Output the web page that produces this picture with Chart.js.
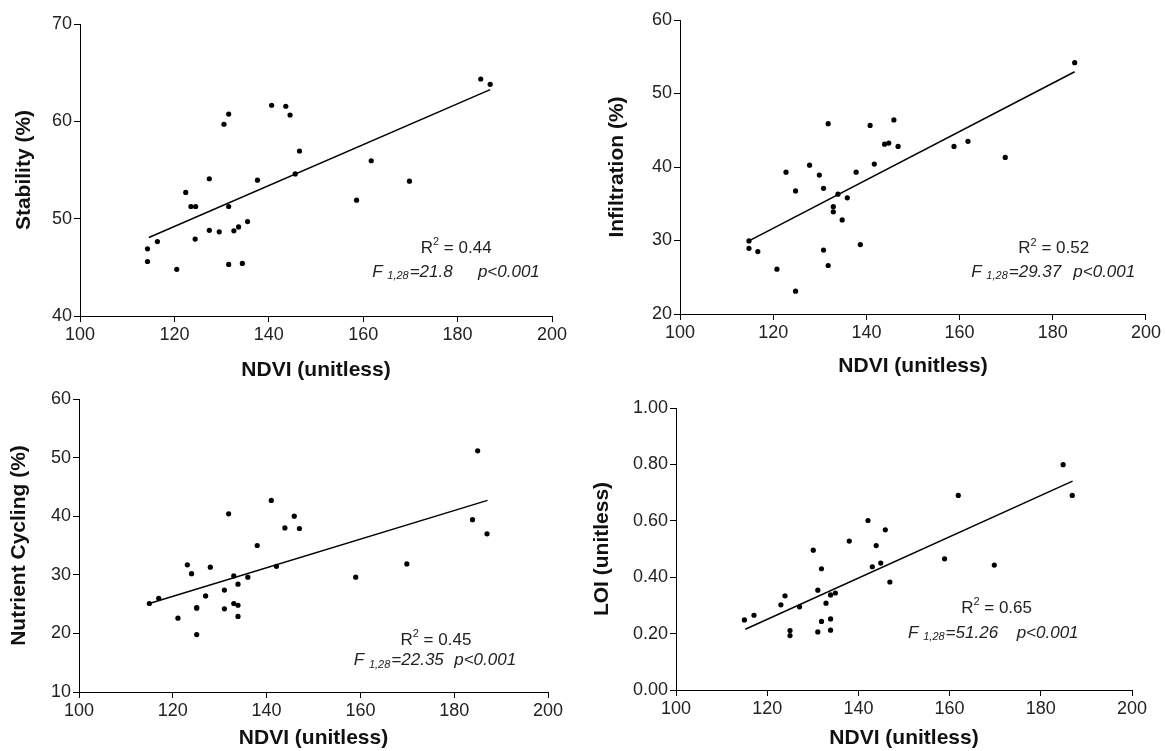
<!DOCTYPE html>
<html><head><meta charset="utf-8">
<script src="https://cdn.jsdelivr.net/npm/chart.js@4.4.0/dist/chart.umd.min.js"></script>
<style>
html,body{margin:0;padding:0;background:#fff;width:1165px;height:751px;overflow:hidden;}
.p{position:absolute;}
</style></head><body>
<div class="p" style="left:12px;top:0px;width:568px;height:383px"><canvas id="c1"></canvas></div>
<div class="p" style="left:605px;top:0px;width:558px;height:379px"><canvas id="c2"></canvas></div>
<div class="p" style="left:7px;top:370px;width:566px;height:381px"><canvas id="c3"></canvas></div>
<div class="p" style="left:590px;top:370px;width:562px;height:381px"><canvas id="c4"></canvas></div>
<script>
// ---- Data ----
const xTicks = [100, 120, 140, 160, 180, 200];

const ndviStab = [114.3,114.3,116.4,120.5,122.4,123.5,124.5,124.4,127.4,127.4,129.5,130.5,131.5,131.5,131.5,132.6,133.6,134.4,135.5,137.6,140.6,143.6,144.5,145.6,146.5,158.6,161.7,169.8,184.9,186.9];
const stability = [46.9,45.6,47.65,44.8,52.7,51.25,51.25,47.9,54.1,48.8,48.65,59.7,60.75,51.25,45.3,48.75,49.15,45.4,49.7,53.95,61.65,61.55,60.65,54.6,56.95,51.9,55.95,53.85,64.35,63.8];
const stabFitX = [114.6, 186.9];
const stabFitY = [48.06, 63.26];

const ndviInf = [114.8,114.8,116.7,120.8,122.75,124.8,124.8,127.8,129.9,130.8,130.8,131.8,131.8,132.9,132.9,133.9,134.8,135.9,137.8,138.7,140.8,141.7,143.9,144.8,145.9,146.8,158.8,161.8,169.8,184.7];
const infiltration = [29.94,28.94,28.5,26.1,39.3,36.75,23.1,40.25,38.9,37.1,28.7,45.9,26.6,34.6,33.9,36.3,32.8,35.8,39.3,29.45,45.65,40.4,43.1,43.25,46.4,42.8,42.8,43.5,41.3,54.2];
const infFitX = [114.8, 184.7];
const infFitY = [29.94, 52.96];

const ndviNut = [115.0,117.0,121.1,123.1,124.0,125.1,125.1,125.1,127.0,128.0,131.0,131.0,131.9,133.0,133.0,133.9,133.9,133.9,136.0,138.0,141.0,142.1,143.9,145.9,147.0,159.0,169.9,183.9,185.0,187.0];
const nutrient = [25.1,26.0,22.6,31.7,30.2,24.3,24.4,19.8,26.4,31.3,27.4,24.2,40.4,29.8,25.1,28.4,24.8,22.9,29.6,35.0,42.7,31.45,38.0,40.0,37.9,29.6,31.85,39.4,51.15,37.0];
const nutFitX = [115.0, 187.1];
const nutFitY = [25.1, 42.7];

const ndviLoi = [115.0,117.1,123.0,123.9,125.0,125.0,127.1,130.1,131.1,131.1,131.9,131.9,132.9,133.9,133.9,133.9,134.95,138.0,142.1,143.05,143.9,144.9,145.9,146.9,158.9,161.9,169.8,184.9,186.9];
const loi = [0.2485,0.265,0.302,0.334,0.211,0.193,0.295,0.496,0.354,0.206,0.430,0.243,0.308,0.337,0.252,0.212,0.344,0.528,0.601,0.437,0.512,0.450,0.568,0.383,0.465,0.690,0.443,0.799,0.690];
const loiFitX = [115.2, 186.96];
const loiFitY = [0.2154, 0.7408];

const stats = [
  {r2: '0.44', f: '21.8'},
  {r2: '0.52', f: '29.37'},
  {r2: '0.45', f: '22.35'},
  {r2: '0.65', f: '51.26'}
];

// ---- Drawing ----
const FAM = '"Liberation Sans", Arial, Helvetica, sans-serif';
const TXT = '#222';

function annPlugin(st, pos) {
  return {
    id: 'ann',
    afterDraw(chart) {
      const {ctx, scales: {x, y}} = chart;
      ctx.save();
      ctx.fillStyle = TXT;
      ctx.textBaseline = 'middle';
      ctx.textAlign = 'left';
      const big = '17px ' + FAM, sm = '11px ' + FAM;
      ctx.font = big; const wR = ctx.measureText('R').width;
      const rest = ' = ' + st.r2; const wRest = ctx.measureText(rest).width;
      ctx.font = sm; const w2 = ctx.measureText('2').width;
      const cx = x.getPixelForValue(pos.rx), cy = y.getPixelForValue(pos.ry);
      let sx = cx - (wR + w2 + wRest) / 2;
      ctx.font = big; ctx.fillText('R', sx, cy);
      ctx.font = sm; ctx.fillText('2', sx + wR, cy - 6);
      ctx.font = big; ctx.fillText(rest, sx + wR + w2, cy);
      const ibig = 'italic 17px ' + FAM, ism = 'italic 11px ' + FAM;
      let fx = x.getPixelForValue(pos.fx); const fy = y.getPixelForValue(pos.fy);
      ctx.font = ibig; ctx.fillText('F', fx, fy); fx += ctx.measureText('F ').width;
      ctx.font = ism; ctx.fillText('1,28', fx, fy + 4); fx += ctx.measureText('1,28').width + 1;
      ctx.font = ibig; ctx.fillText('=' + st.f, fx, fy);
      ctx.fillText('p<0.001', x.getPixelForValue(pos.px), fy);
      ctx.restore();
    }
  };
}

function makeChart(id, xs, ys, fx, fy, yMin, yMax, yStep, yTitle, yFmt, box, st, pos) {
  const pts = xs.map((v, i) => ({x: v, y: ys[i]}));
  const line = fx.map((v, i) => ({x: v, y: fy[i]}));
  new Chart(document.getElementById(id), {
    type: 'scatter',
    data: {
      datasets: [
        {data: pts, backgroundColor: '#000', borderWidth: 0, pointRadius: 2.6, pointHoverRadius: 2.6},
        {data: line, showLine: true, borderColor: '#000', borderWidth: 1.5, pointRadius: 0, fill: false}
      ]
    },
    options: {
      responsive: true, maintainAspectRatio: false, animation: false,
      events: [],
      layout: {padding: {left: 0, right: box.pr, top: box.pt, bottom: 0}},
      plugins: {legend: {display: false}, tooltip: {enabled: false}},
      scales: {
        x: {
          type: 'linear', min: 100, max: 200,
          afterBuildTicks: s => { s.ticks = xTicks.map(v => ({value: v})); },
          ticks: {color: TXT, font: {size: 18, family: FAM}, padding: 2, maxRotation: 0},
          grid: {drawOnChartArea: false, drawTicks: true, tickLength: 6, color: '#000', lineWidth: 1},
          border: {display: true, color: '#000', width: 1},
          title: {display: true, text: 'NDVI (unitless)', color: '#111', font: {size: 21, weight: 'bold', family: FAM}, padding: 0},
          afterFit: s => { s.height = box.hx; }
        },
        y: {
          type: 'linear', min: yMin, max: yMax,
          ticks: {stepSize: yStep, color: TXT, font: {size: 18, family: FAM}, padding: 2, callback: yFmt},
          grid: {drawOnChartArea: false, drawTicks: true, tickLength: 6, color: '#000', lineWidth: 1},
          border: {display: true, color: '#000', width: 1},
          title: {display: true, text: yTitle, color: '#111', font: {size: 21, weight: 'bold', family: FAM}, padding: 0},
          afterFit: s => { s.width = box.wy; }
        }
      }
    },
    plugins: [annPlugin(st, pos)]
  });
}

const intFmt = v => String(Math.round(v));
const decFmt = v => v.toFixed(2);

makeChart('c1', ndviStab, stability, stabFitX, stabFitY, 40, 70, 10, 'Stability (%)', intFmt,
  {wy: 68, hx: 67, pt: 24, pr: 28}, stats[0], {rx: 179.7, ry: 46.94, fx: 161.9, fy: 44.52, px: 184.3});
makeChart('c2', ndviInf, infiltration, infFitX, infFitY, 20, 60, 10, 'Infiltration (%)', intFmt,
  {wy: 75, hx: 65, pt: 20, pr: 16}, stats[1], {rx: 180.2, ry: 28.91, fx: 162.5, fy: 25.71, px: 184.4});
makeChart('c3', ndviNut, nutrient, nutFitX, nutFitY, 10, 60, 10, 'Nutrient Cycling (%)', intFmt,
  {wy: 72, hx: 59, pt: 29, pr: 25}, stats[2], {rx: 176.1, ry: 18.87, fx: 158.6, fy: 15.34, px: 180.0});
makeChart('c4', ndviLoi, loi, loiFitX, loiFitY, 0, 1, 0.2, 'LOI (unitless)', decFmt,
  {wy: 86, hx: 61, pt: 38, pr: 20}, stats[3], {rx: 170.3, ry: 0.291, fx: 150.9, fy: 0.202, px: 174.7});
</script>
</body></html>
